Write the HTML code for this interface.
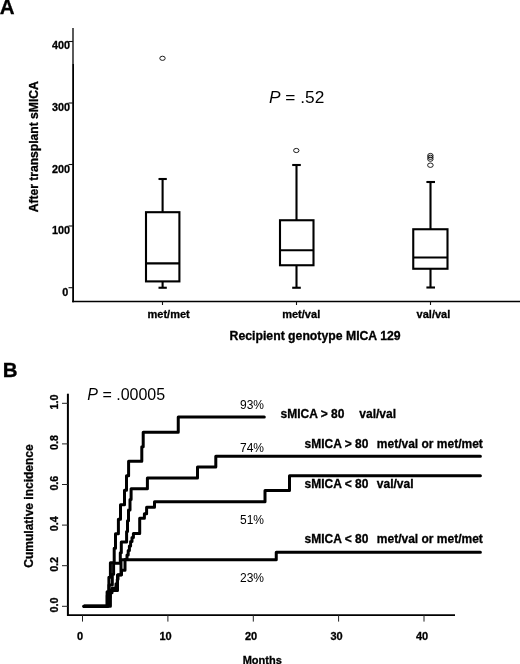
<!DOCTYPE html>
<html>
<head>
<meta charset="utf-8">
<title>Figure</title>
<style>
  html, body { margin: 0; padding: 0; background: #ffffff; }
  body { width: 520px; height: 664px; overflow: hidden; font-family: "Liberation Sans", sans-serif; }
  svg { display: block; will-change: transform; }
  text { font-family: "Liberation Sans", sans-serif; fill: #000000; }
  .b { font-weight: bold; stroke: #000; stroke-width: 0.3px; }
</style>
</head>
<body>
<svg width="520" height="664" viewBox="0 0 520 664">
  <rect x="0" y="0" width="520" height="664" fill="#ffffff"/>

  <!-- ================= PANEL A ================= -->
  <text class="b" x="-0.2" y="14.4" font-size="20.5" stroke="#000" stroke-width="0.3">A</text>

  <!-- axes -->
  <line x1="73" y1="28" x2="73" y2="64" stroke="#000" stroke-width="1.3"/>
  <line x1="73.1" y1="64" x2="73.1" y2="302.2" stroke="#000" stroke-width="1.8"/>
  <line x1="72.2" y1="301.4" x2="520" y2="301.4" stroke="#000" stroke-width="1.5"/>

  <!-- y ticks -->
  <g stroke="#111" stroke-width="1.1">
    <line x1="68.5" y1="41.5" x2="73" y2="41.5"/>
    <line x1="68.5" y1="103" x2="73" y2="103"/>
    <line x1="68.5" y1="164.5" x2="73" y2="164.5"/>
    <line x1="68.5" y1="226" x2="73" y2="226"/>
    <line x1="68.5" y1="287.7" x2="73" y2="287.7"/>
  </g>
  <g class="b" font-size="10.8" text-anchor="end">
    <text x="70" y="49">400</text>
    <text x="70" y="111">300</text>
    <text x="70" y="172.5">200</text>
    <text x="70" y="234.1">100</text>
    <text x="68.2" y="295.7">0</text>
  </g>

  <!-- y axis label -->
  <text class="b" font-size="12.1" text-anchor="middle" transform="translate(38.2,146.8) rotate(-90)">After transplant sMICA</text>

  <!-- x ticks -->
  <g stroke="#111" stroke-width="1.1">
    <line x1="162.5" y1="301.5" x2="162.5" y2="305"/>
    <line x1="296.5" y1="301.5" x2="296.5" y2="305"/>
    <line x1="430.5" y1="301.5" x2="430.5" y2="305"/>
  </g>
  <g class="b" font-size="11">
    <text x="147.5" y="317.6" textLength="42.3" lengthAdjust="spacingAndGlyphs">met/met</text>
    <text x="282.2" y="317.6" textLength="38">met/val</text>
    <text x="416.6" y="317.6">val/val</text>
  </g>
  <text class="b" font-size="12" x="229.6" y="340.3" textLength="171" lengthAdjust="spacingAndGlyphs">Recipient genotype MICA 129</text>

  <!-- P value -->
  <text font-size="17.3" x="269" y="103"><tspan font-style="italic">P</tspan> = .52</text>

  <!-- boxes -->
  <g stroke="#000" stroke-width="2.1" fill="none">
    <!-- box 1 -->
    <rect x="146" y="212.2" width="33.4" height="69.2"/>
    <line x1="146" y1="263.4" x2="179.4" y2="263.4"/>
    <line x1="162.6" y1="179" x2="162.6" y2="212.2"/>
    <line x1="162.6" y1="281.4" x2="162.6" y2="287.75"/>
    <line x1="158.5" y1="179" x2="166.8" y2="179"/>
    <line x1="158.5" y1="287.75" x2="166.8" y2="287.75"/>
    <!-- box 2 -->
    <rect x="280" y="220.25" width="33.5" height="45"/>
    <line x1="280" y1="250.3" x2="313.5" y2="250.3"/>
    <line x1="296.5" y1="165" x2="296.5" y2="220.25"/>
    <line x1="296.5" y1="265.25" x2="296.5" y2="287.75"/>
    <line x1="292.2" y1="165" x2="300.8" y2="165"/>
    <line x1="292.2" y1="287.75" x2="300.8" y2="287.75"/>
    <!-- box 3 -->
    <rect x="413.25" y="229.25" width="34.25" height="39.5"/>
    <line x1="413.25" y1="257.5" x2="447.5" y2="257.5"/>
    <line x1="430.5" y1="182" x2="430.5" y2="229.25"/>
    <line x1="430.5" y1="268.75" x2="430.5" y2="287.5"/>
    <line x1="426.4" y1="182" x2="435" y2="182"/>
    <line x1="426.4" y1="287.5" x2="435" y2="287.5"/>
  </g>

  <!-- outliers -->
  <g stroke="#111" stroke-width="0.95" fill="#fff">
    <ellipse cx="162.5" cy="58.3" rx="2.7" ry="2.1"/>
    <ellipse cx="296.3" cy="150.5" rx="2.7" ry="2.1"/>
    <ellipse cx="430.4" cy="155.5" rx="2.7" ry="2.1" fill="none"/>
    <ellipse cx="430.4" cy="157.3" rx="2.7" ry="2.1" fill="none"/>
    <ellipse cx="430.4" cy="159.2" rx="2.7" ry="2.1" fill="none"/>
    <ellipse cx="430.4" cy="165.2" rx="2.8" ry="2.2"/>
  </g>

  <!-- ================= PANEL B ================= -->
  <text class="b" x="2.7" y="377" font-size="20.5" stroke="#000" stroke-width="0.3">B</text>

  <!-- axes -->
  <line x1="67.9" y1="393.7" x2="67.9" y2="615.9" stroke="#000" stroke-width="2"/>
  <line x1="67.2" y1="615.1" x2="455" y2="615.1" stroke="#000" stroke-width="1.6"/>

  <!-- y ticks -->
  <g stroke="#222" stroke-width="1">
    <line x1="62" y1="403.3" x2="68" y2="403.3"/>
    <line x1="62" y1="443.9" x2="68" y2="443.9"/>
    <line x1="62" y1="484.5" x2="68" y2="484.5"/>
    <line x1="62" y1="525.1" x2="68" y2="525.1"/>
    <line x1="62" y1="565.7" x2="68" y2="565.7"/>
    <line x1="62" y1="606.3" x2="68" y2="606.3"/>
  </g>
  <g class="b" font-size="10.7" text-anchor="middle">
    <text transform="translate(57.5,402) rotate(-90)">1.0</text>
    <text transform="translate(57.5,442.6) rotate(-90)">0.8</text>
    <text transform="translate(57.5,483.2) rotate(-90)">0.6</text>
    <text transform="translate(57.5,523.8) rotate(-90)">0.4</text>
    <text transform="translate(57.5,564.4) rotate(-90)">0.2</text>
    <text transform="translate(57.5,605) rotate(-90)">0.0</text>
  </g>
  <text class="b" font-size="12" text-anchor="middle" transform="translate(32.9,506) rotate(-90)">Cumulative incidence</text>

  <!-- x ticks -->
  <g stroke="#222" stroke-width="1">
    <line x1="82.5" y1="615.1" x2="82.5" y2="621.6"/>
    <line x1="167.9" y1="615.1" x2="167.9" y2="621.6"/>
    <line x1="253.3" y1="615.1" x2="253.3" y2="621.6"/>
    <line x1="338.6" y1="615.1" x2="338.6" y2="621.6"/>
    <line x1="424" y1="615.1" x2="424" y2="621.6"/>
  </g>
  <g class="b" font-size="11" text-anchor="middle">
    <text x="80" y="640.3">0</text>
    <text x="165.6" y="640.3">10</text>
    <text x="251" y="640.3">20</text>
    <text x="336.5" y="640.3">30</text>
    <text x="422" y="640.3">40</text>
  </g>
  <text class="b" font-size="11" x="242.7" y="663.6">Months</text>

  <!-- P value -->
  <text font-size="16" x="87.3" y="400"><tspan font-style="italic">P</tspan> = .00005</text>

  <!-- curves -->
  <g stroke="#000" stroke-width="3" fill="none" stroke-linejoin="round" stroke-linecap="round">
    <!-- curve 1: sMICA>80 val/val (n=14) -->
    <path d="M84,606.25 H107.1 V591.75 H108.9 V577.25 H110.4 V562.75 H114.2 V548.25 H115.5 V533.75 H118.4 V519.25 H120.5 V504.75 H124.5 V490.25 H126.5 V475.75 H128.6 V461.25 H141.8 V446.75 H143.2 V432.25 H178.25 V417 H264.3"/>
    <!-- curve 2: sMICA>80 met/val or met/met (n=19) -->
    <path d="M84,606.25 H107.3 V595.6 H109 V584.9 H112.3 V574.2 H113.6 V563.3 H120.3 V552.8 H121.3 V542.1 H126.6 V531.5 H127.5 V520.8 H128.5 V510.1 H130 V499.4 H131.1 V488.7 H147.4 V478 H197.5 V467 H215.8 V456.3 H480.4"/>
    <!-- curve 3: sMICA<80 val/val -->
    <path d="M84,606.25 H108 V601.7 H109 V597.2 H110 V592.7 H112 V588.2 H116 V583.7 H117.3 V579.2 H118 V574.7 H121.5 V570.2 H125 V559.5 H127 V555 H128.2 V550.5 H129.4 V546 H130.6 V541.5 H132 V537.5 H133.4 V533.5 H139.7 V518.3 H144.4 V513.8 H146.6 V507.3 H154.5 V501.75 H265 V490.5 H289.5 V475.75 H480.4"/>
    <!-- curve 4: sMICA<80 met/val or met/met -->
    <path d="M84,606.25 H110.4 V590.6 H117.5 V575 H121 V559.8 H276.25 V552.3 H480.4"/>
  </g>

  <!-- percentages -->
  <g font-size="12">
    <text x="240" y="408.6">93%</text>
    <text x="240" y="451.9">74%</text>
    <text x="240" y="523.9">51%</text>
    <text x="240" y="582.1">23%</text>
  </g>

  <!-- curve labels -->
  <g class="b" font-size="12">
    <text x="280.5" y="417.6">sMICA &gt; 80</text>
    <text x="359.3" y="417.6">val/val</text>
    <text x="304.5" y="448">sMICA &gt; 80</text>
    <text x="376.8" y="448">met/val or met/met</text>
    <text x="304.5" y="488">sMICA &lt; 80</text>
    <text x="376.8" y="488">val/val</text>
    <text x="304.5" y="543">sMICA &lt; 80</text>
    <text x="376.8" y="543">met/val or met/met</text>
  </g>
</svg>
</body>
</html>
